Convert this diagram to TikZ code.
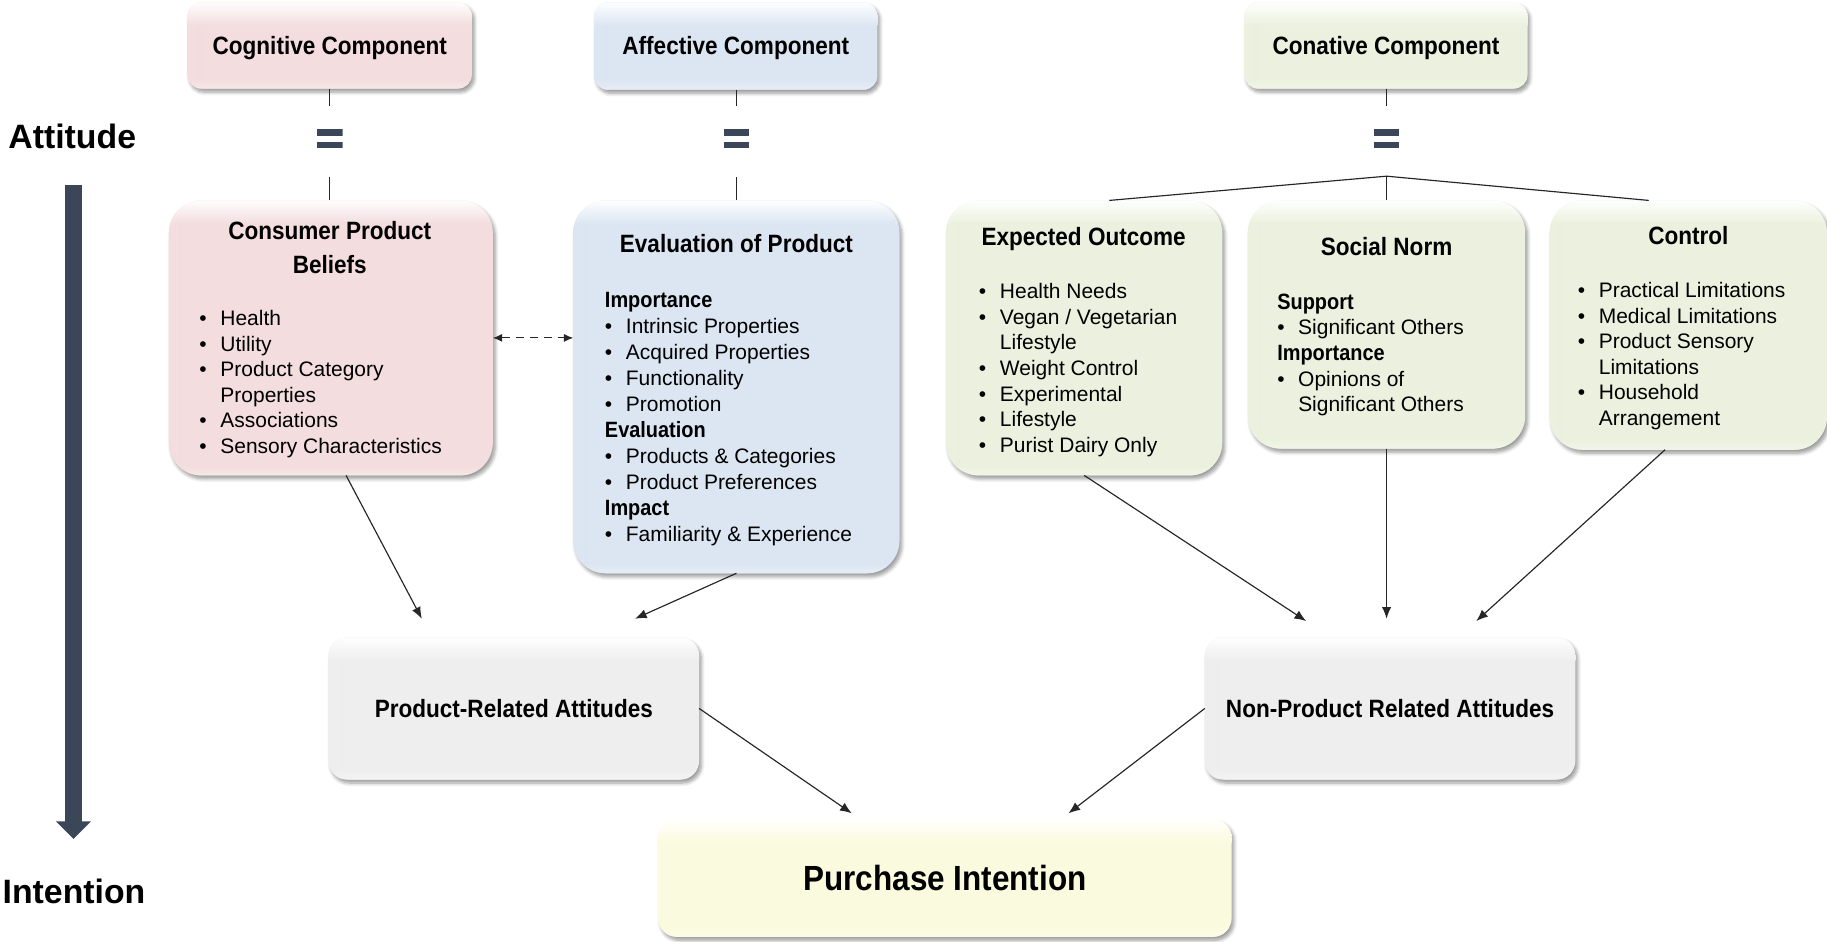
\documentclass[tikz,border=0pt]{standalone}
\usepackage{fontspec}
\setmainfont{Liberation Sans}
\newfontfamily\narrowsans{Liberation Sans}[FakeStretch=0.9]
\usetikzlibrary{arrows.meta,shadows.blur,calc}

\definecolor{pinkc}{HTML}{F3DDDE}
\definecolor{bluec}{HTML}{DCE6F2}
\definecolor{greenc}{HTML}{EBF1DE}
\definecolor{grayc}{HTML}{EEEEEE}
\definecolor{yellowc}{HTML}{FAFBDE}
\definecolor{slate}{HTML}{3B4659}

% list helpers: bulleted item, continuation line, bold sub-heading
\newcommand{\litem}[1]{\makebox[18pt][l]{\textbullet}#1}
\newcommand{\lcont}[1]{\hspace*{18pt}#1}
\newcommand{\lhead}[1]{{\narrowsans\bfseries\fontsize{19}{22}\selectfont #1}}

\begin{document}
\begin{tikzpicture}[x=1pt,y=-1pt,
  card/.style={inner sep=0pt, outer sep=0pt,
    blur shadow={shadow xshift=2pt, shadow yshift=-3pt, shadow blur radius=3pt,
                 shadow blur steps=6, shadow opacity=40}},
  tint/.style={fill=#1, path picture={
    \shade[sharp corners, left color=#1, right color=#1!93!black]
      (path picture bounding box.north west) rectangle ([xshift=12pt]path picture bounding box.south west);
    \shade[sharp corners, top color=white, bottom color=#1]
      ([yshift=1pt]path picture bounding box.north west) rectangle ([yshift=-20pt]path picture bounding box.north east);
    \shade[sharp corners, top color=#1, bottom color=#1!70!white]
      ([yshift=8pt]path picture bounding box.south west) rectangle (path picture bounding box.south east);
  }},
  ttl/.style={font=\narrowsans\bfseries\fontsize{21.5}{29}\selectfont, align=center, inner sep=0pt},
  onetitle/.style={ttl, text height=15.4pt, text depth=0pt},
  lst/.style={font=\fontsize{18}{22}\selectfont, align=left, inner sep=0pt, anchor=north west},
  side/.style={font=\bfseries\fontsize{29}{34}\selectfont, inner sep=0pt, anchor=base},
  link/.style={draw=black!85, line width=1pt},
  arr/.style={link, -{Latex[length=10pt,width=8pt]}},
  eqsign/.style={minimum width=22pt, minimum height=16pt, inner sep=0pt, path picture={
    \fill[slate] (path picture bounding box.north west) rectangle ([yshift=-6pt]path picture bounding box.north east);
    \fill[slate] ([yshift=5.5pt]path picture bounding box.south west) rectangle (path picture bounding box.south east);
  }}
]
\useasboundingbox (0,0) rectangle (1568,808);

% side labels and the flow arrow
\node[side] (att) at (62,127.4) {Attitude};
\node[side] (intn) at (63.5,775.4) {Intention};
\coordinate (flowTop) at (63,159);
\coordinate (flowEnd) at (63,720);
\draw[slate, line width=14pt, -{Triangle[length=15pt,width=29pt]}] (flowTop) -- (flowEnd);

% the three components
\node[card, tint=pinkc, rounded corners=12pt, minimum width=244pt, minimum height=74pt, onetitle] (cog) at (283,39) {Cognitive Component};
\node[card, tint=bluec, rounded corners=12pt, minimum width=243pt, minimum height=75pt, onetitle] (aff) at (631.5,39.5) {Affective Component};
\node[card, tint=greenc, rounded corners=12pt, minimum width=243pt, minimum height=74pt, onetitle] (con) at (1189.5,39) {Conative Component};

% equals signs
\node[eqsign] (eqA) at (283,119) {};
\node[eqsign] (eqB) at (632,119) {};
\node[eqsign] (eqC) at (1190,119) {};

% detail boxes
\node[card, tint=pinkc, rounded corners=28pt, minimum width=278pt, minimum height=236pt] (cpb) at (284,290) {};
\node[card, tint=bluec, rounded corners=28pt, minimum width=280pt, minimum height=320pt] (eop) at (632,332) {};
\node[card, tint=greenc, rounded corners=28pt, minimum width=237pt, minimum height=236pt] (exo) at (930.5,290) {};
\node[card, tint=greenc, rounded corners=28pt, minimum width=238pt, minimum height=213pt] (sn) at (1190,278.5) {};
\node[card, tint=greenc, rounded corners=28pt, minimum width=238pt, minimum height=214pt] (ctl) at (1449,279) {};

\node[ttl] (cpbT) at (283,212.5) {Consumer Product\\Beliefs};
\node[ttl, anchor=base] (eopT) at (632,216.7) {Evaluation of Product};
\node[ttl, anchor=base] (exoT) at (930,210.7) {Expected Outcome};
\node[ttl, anchor=base] (snT) at (1190,219.7) {Social Norm};
\node[ttl, anchor=base] (ctlT) at (1449,209.7) {Control};

\node[lst] (cpbL) at (171,266) {\litem{Health}\\ \litem{Utility}\\ \litem{Product Category}\\ \lcont{Properties}\\ \litem{Associations}\\ \litem{Sensory Characteristics}};
\node[lst, font=\fontsize{18}{22.3}\selectfont] (eopL) at (519,251) {\lhead{Importance}\\ \litem{Intrinsic Properties}\\ \litem{Acquired Properties}\\ \litem{Functionality}\\ \litem{Promotion}\\ \lhead{Evaluation}\\ \litem{Products \& Categories}\\ \litem{Product Preferences}\\ \lhead{Impact}\\ \litem{Familiarity \& Experience}};
\node[lst] (exoL) at (840,243) {\litem{Health Needs}\\ \litem{Vegan / Vegetarian}\\ \lcont{Lifestyle}\\ \litem{Weight Control}\\ \litem{Experimental}\\ \litem{Lifestyle}\\ \litem{Purist Dairy Only}};
\node[lst] (snL) at (1096,252) {\lhead{Support}\\ \litem{Significant Others}\\ \lhead{Importance}\\ \litem{Opinions of}\\ \lcont{Significant Others}};
\node[lst] (ctlL) at (1354,242) {\litem{Practical Limitations}\\ \litem{Medical Limitations}\\ \litem{Product Sensory}\\ \lcont{Limitations}\\ \litem{Household}\\ \lcont{Arrangement}};

% attitude groups and the outcome
\node[card, tint=grayc, rounded corners=16pt, minimum width=318pt, minimum height=122pt, onetitle] (pra) at (441,608) {Product-Related Attitudes};
\node[card, tint=grayc, rounded corners=16pt, minimum width=318pt, minimum height=122pt, onetitle] (npra) at (1193,608) {Non-Product Related Attitudes};
\node[card, tint=yellowc, rounded corners=16pt, minimum width=492pt, minimum height=101pt, ttl,
      font=\narrowsans\bfseries\fontsize{30}{36}\selectfont, text height=21.5pt, text depth=0pt] (pi) at (811,753.5) {Purchase Intention};

% component-to-detail links
\draw[link] (eqA.north |- cog.south) -- ([yshift=20pt]eqA.north);
\draw[link] ([yshift=-25pt]eqA.south) -- (eqA.south |- cpb.north);
\draw[link] (eqB.north |- aff.south) -- ([yshift=20pt]eqB.north);
\draw[link] ([yshift=-25pt]eqB.south) -- (eqB.south |- eop.north);
\draw[link] (eqC.north |- con.south) -- ([yshift=20pt]eqC.north);
\coordinate (hub) at ([yshift=-24pt]eqC.south);
\draw[link] ([xshift=21.5pt]exo.north) -- (hub) -- ([xshift=-34pt]ctl.north);
\draw[link] (hub) -- (hub |- sn.north);

% mutual influence
\draw[link, dash pattern=on 7pt off 5pt, {Latex[length=8pt,width=7pt]}-{Latex[length=8pt,width=7pt]}] (cpb.east) -- (cpb.east -| eop.west);

% flows into the attitude groups and the intention
\draw[arr] ([xshift=13pt]cpb.south) -- ([xshift=-79pt,yshift=16pt]pra.north);
\draw[arr] (eop.south) -- ([xshift=104pt,yshift=16pt]pra.north);
\draw[arr] (exo.south) -- ([xshift=-72pt,yshift=14pt]npra.north);
\draw[arr] (sn.south) -- ([yshift=16pt]sn.south |- npra.north);
\draw[arr] ([xshift=-20pt]ctl.south) -- ([xshift=74pt,yshift=14pt]npra.north);
\draw[arr] (pra.east) -- ([xshift=-80pt,yshift=5pt]pi.north);
\draw[arr] (npra.west) -- ([xshift=106pt,yshift=5pt]pi.north);
\end{tikzpicture}
\end{document}
